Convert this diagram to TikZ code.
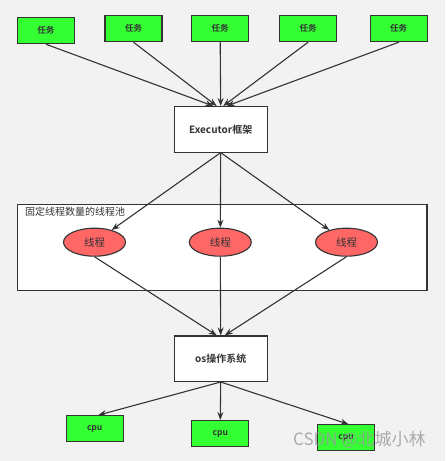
\documentclass[tikz,border=0pt]{standalone}
\usepackage{fontspec}
\newfontfamily\cjk{Noto Sans CJK SC}
\newfontfamily\cjkb{Noto Sans CJK SC Bold}
\usetikzlibrary{arrows.meta,shapes.geometric}
\definecolor{bg}{HTML}{F2F2F2}
\definecolor{ln}{HTML}{333333}
\definecolor{gr}{HTML}{33FF33}
\definecolor{rd}{HTML}{FF6666}
\tikzset{
  task/.style={draw=ln,line width=1.1pt,fill=gr,minimum width=57pt,minimum height=26pt,inner sep=0pt,font=\cjkb\fontsize{8.5}{9}\selectfont,text=ln},
  bigbox/.style={draw=ln,line width=1.1pt,fill=white,minimum width=93pt,minimum height=45.5pt,inner sep=0pt,font=\cjkb\fontsize{10}{11}\selectfont,text=ln},
  thread/.style={draw=ln,line width=1.1pt,fill=rd,ellipse,minimum width=62pt,minimum height=28pt,inner sep=0pt,font=\cjk\fontsize{10.5}{11}\selectfont,text=ln},
  conn/.style={draw=ln,line width=1.1pt,-{Stealth[length=8pt,width=6pt]}},
}
\begin{document}
\begin{tikzpicture}[x=1pt,y=-1pt]
\fill[bg] (0,0) rectangle (445,461);
\useasboundingbox (0,0) rectangle (445,461);
% tasks
\node[task] (t1) at (46,30.7) {任务};
\node[task] (t2) at (133.5,28.7) {任务};
\node[task] (t3) at (220.2,28.7) {任务};
\node[task] (t4) at (308,28.7) {任务};
\node[task] (t5) at (398.7,28.7) {任务};
% executor
\node[bigbox] (ex) at (220.7,129.3) {Executor框架};
% pool
\node[draw=ln,line width=1.1pt,fill=white,minimum width=409.3pt,minimum height=85.7pt,inner sep=0pt] (pool) at (222.3,247.2) {};
\node[anchor=west,inner sep=0pt,font=\cjk\fontsize{10}{11}\selectfont,text=ln] (pl) at (25,211.5) {固定线程数量的线程池};
\node[thread] (h1) at (94.5,242.2) {线程};
\node[thread] (h2) at (220.3,242.2) {线程};
\node[thread] (h3) at (346.5,242.2) {线程};
% os
\node[bigbox] (os) at (220.7,358.7) {os操作系统};
% cpus
\node[task] (c1) at (94.7,428.7) {cpu};
\node[task] (c2) at (220.3,433.5) {cpu};
\node[task] (c3) at (346,437.8) {cpu};
% connectors
\draw[conn] (t1.south) -- ([xshift=-7.5pt]ex.north);
\draw[conn] (t2.south) -- ([xshift=-4pt]ex.north);
\draw[conn] (t3.south) -- (ex.north);
\draw[conn] (t4.south) -- ([xshift=2.5pt]ex.north);
\draw[conn] (t5.south) -- ([xshift=6pt]ex.north);
\draw[conn] (ex.south) -- (h1);
\draw[conn] (ex.south) -- (h2);
\draw[conn] (ex.south) -- (h3);
\draw[conn] (h1.south) -- ([xshift=-4pt]os.north);
\draw[conn] (h2.south) -- (os.north);
\draw[conn] (h3.south) -- ([xshift=4pt]os.north);
\draw[conn] (os.south) -- ([xshift=3.5pt]c1.north);
\draw[conn] (os.south) -- (c2.north);
\draw[conn] (os.south) -- ([xshift=2.5pt]c3.north);
% watermark
\node[anchor=west,inner sep=0pt,font=\cjk\fontsize{17}{19}\selectfont,text=black!40,opacity=0.8] (wm) at (293,440) {CSDN @北城小林};
\end{tikzpicture}
\end{document}
